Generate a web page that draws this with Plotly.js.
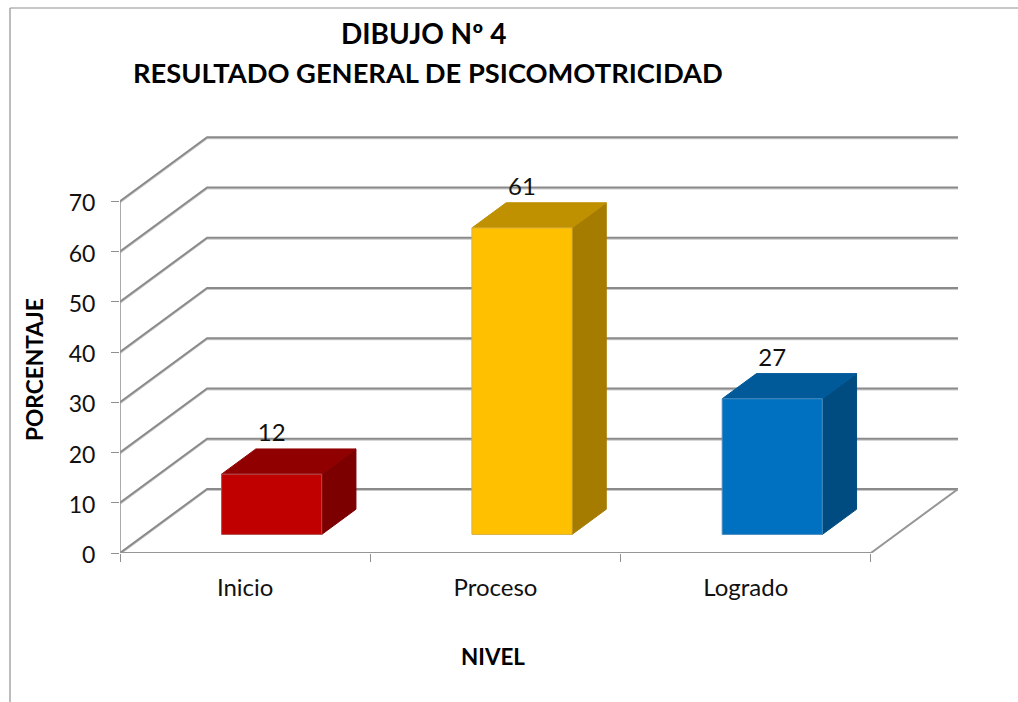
<!DOCTYPE html>
<html><head><meta charset="utf-8">
<script src="https://cdn.plot.ly/plotly-3.0.1.min.js"></script>
<style>html,body{margin:0;padding:0;background:#fff;overflow:hidden}</style>
</head><body><div id="chart" style="width:1018px;height:702px"></div>
<script>
const categories = ["Inicio", "Proceso", "Logrado"];
const values = [12, 61, 27];
const gridValues = [0, 10, 20, 30, 40, 50, 60, 70];
const frontColors = ["#C00000", "#FFC000", "#0070C0"];
const topColors = ["#900000", "#BF9000", "#005A9A"];
const sideColors = ["#7C0000", "#A67C00", "#004C80"];
const edgeColors = ["#B05050", "#D8B040", "#4A8CC0"];

// oblique projection used by the 3-D look, in axis units
const DEPTH_X = 0.348, DEPTH_Y = 12.75;
const BAR_W = 0.4, BAR_SHIFT = 0.005, BAR_D0 = 0.29, BAR_D1 = 0.683;
const W = 1018, H = 702, L = 120, R = 60, T = 136, B = 149;
const pw = W - L - R, ph = H - T - B;
const FONT = "Lato, Carlito, Calibri, sans-serif";
const px = v => (v - L) / pw, py = v => (H - B - v) / ph;
const P = (c, v, d) => [c + d * DEPTH_X, v + d * DEPTH_Y];

function poly(points, fill, edge, name) {
  const closed = points.concat([points[0]]);
  return {x: closed.map(p => p[0]), y: closed.map(p => p[1]), type: "scatter", mode: "lines",
    fill: "toself", fillcolor: fill, line: {color: edge, width: 1}, hoverinfo: "skip", showlegend: false, name, cliponaxis: false};
}
function path(points, color, width) {
  return {x: points.map(p => p ? p[0] : null), y: points.map(p => p ? p[1] : null), type: "scatter", mode: "lines",
    line: {color, width}, hoverinfo: "skip", showlegend: false, cliponaxis: false, connectgaps: false};
}

const gridPts = [];
gridValues.forEach(v => { gridPts.push(P(0, v, 0), P(0, v, 1), P(3, v, 1), null); });
const traces = [];
traces.push(path(gridPts.map(p => p && [p[0], p[1] - 0.28]), "#c9c9c9", 1.2));
traces.push(path(gridPts, "#8a8a8a", 2));
traces.push(path([P(0, 0, 0), P(0, 70, 0)], "#8f8f8f", 1.5));
traces.push(path([P(0, 0, 0), P(3, 0, 0), P(3, 0, 1)], "#969696", 2));

categories.forEach((c, i) => {
  const a = i + 0.5 + BAR_SHIFT - BAR_W / 2, b = i + 0.5 + BAR_SHIFT + BAR_W / 2, v = values[i];
  traces.push(poly([P(b, 0, BAR_D0), P(b, 0, BAR_D1), P(b, v, BAR_D1), P(b, v, BAR_D0)], sideColors[i], sideColors[i], c + " lado"));
  traces.push(poly([P(a, v, BAR_D0), P(b, v, BAR_D0), P(b, v, BAR_D1), P(a, v, BAR_D1)], topColors[i], topColors[i], c + " tapa"));
  traces.push(poly([P(a, 0, BAR_D0), P(b, 0, BAR_D0), P(b, v, BAR_D0), P(a, v, BAR_D0)], frontColors[i], edgeColors[i], c));
});
traces.push({
  x: categories.map((c, i) => P(i + 0.5 + BAR_SHIFT, 0, BAR_D0)[0]),
  y: values.map(v => P(0, v, BAR_D1)[1] + 0.4),
  text: values.map(String), type: "scatter", mode: "text", textposition: "top center",
  textfont: {family: FONT, size: 24, color: "#111"}, hoverinfo: "skip", showlegend: false, cliponaxis: false
});

const note = (text, x, y, size, bold, angle) => ({
  text: bold ? "<b>" + text + "</b>" : text, xref: "paper", yref: "paper", x: px(x), y: py(y),
  xanchor: "center", yanchor: "middle", showarrow: false, textangle: angle || 0,
  font: {family: FONT, size, color: "#000"}
});

const layout = {
  width: W, height: H, margin: {l: L, r: R, t: T, b: B, pad: 0},
  paper_bgcolor: "#fff", plot_bgcolor: "rgba(0,0,0,0)", showlegend: false,
  xaxis: {range: [0, 3 + DEPTH_X], tickmode: "array", tickvals: [0.5, 1.5, 2.5], ticktext: categories,
    showgrid: false, zeroline: false, showline: false, ticks: "", ticklabelstandoff: 18,
    tickfont: {family: FONT, size: 24, color: "#111"},
    minor: {tickmode: "array", tickvals: [0, 1, 2, 3], ticks: "outside", ticklen: 8, tickwidth: 1, tickcolor: "#8f8f8f", showgrid: false}},
  yaxis: {range: [0, 83], tickmode: "array", tickvals: gridValues, ticktext: gridValues.map(String),
    showgrid: false, zeroline: false, showline: false, ticks: "outside", ticklen: 8, tickwidth: 1, tickcolor: "#8f8f8f",
    ticklabelstandoff: 11, ticklabelshift: 2,
    tickfont: {family: FONT, size: 23, color: "#111"}},
  annotations: [
    note("DIBUJO Nº 4", 423, 33, 28, true),
    note("RESULTADO GENERAL DE PSICOMOTRICIDAD", 427.5, 72, 27.3, true),
    note("NIVEL", 493, 656, 22.4, true),
    note("PORCENTAJE", 34.5, 369.5, 22.7, true, -90)
  ],
  shapes: [
    {type: "line", xref: "paper", yref: "paper", x0: px(10), x1: px(10), y0: py(8), y1: py(702), line: {color: "#909090", width: 1.2}},
    {type: "line", xref: "paper", yref: "paper", x0: px(10), x1: px(1018), y0: py(8), y1: py(8), line: {color: "#909090", width: 1.2}}
  ]
};
Plotly.newPlot("chart", traces, layout, {displayModeBar: false, staticPlot: true});
</script></body></html>
